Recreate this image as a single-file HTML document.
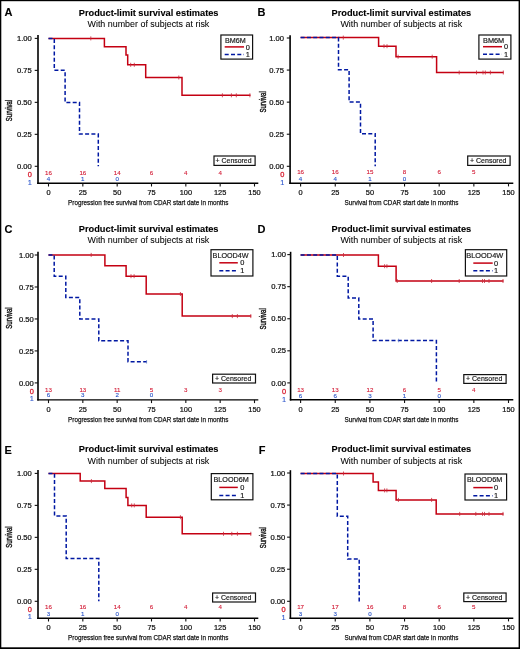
<!DOCTYPE html>
<html><head><meta charset="utf-8"><style>
html,body{margin:0;padding:0;background:#fff;}
svg{display:block;will-change:transform;}
text{font-family:"Liberation Sans",sans-serif;}
</style></head><body>
<svg width="520" height="649" viewBox="0 0 520 649">
<rect x="0" y="0" width="520" height="649" fill="#fff"/>
<text x="4.6" y="16" font-size="11" text-anchor="start" fill="#000" font-weight="bold" stroke="#000" stroke-width="0.1">A</text>
<text x="78.8" y="15.5" font-size="8.2" text-anchor="start" fill="#000" font-weight="bold" stroke="#000" stroke-width="0.1" textLength="139.7" lengthAdjust="spacingAndGlyphs">Product-limit survival estimates</text>
<text x="87.5" y="26.6" font-size="8.8" text-anchor="start" fill="#000" font-weight="normal" stroke="#000" stroke-width="0.05" textLength="121.8" lengthAdjust="spacingAndGlyphs">With number of subjects at risk</text>
<line x1="38" y1="35.1" x2="38" y2="184" stroke="#000" stroke-width="1.6"/>
<line x1="37.2" y1="183.3" x2="258.3" y2="183.3" stroke="#000" stroke-width="1.4"/>
<line x1="34.7" y1="166.3" x2="38" y2="166.3" stroke="#111" stroke-width="1.1"/>
<text x="31.8" y="168.95" font-size="7.4" text-anchor="end" fill="#111" font-weight="normal" stroke="#111" stroke-width="0.22" textLength="14.8" lengthAdjust="spacingAndGlyphs">0.00</text>
<line x1="34.7" y1="134.33" x2="38" y2="134.33" stroke="#111" stroke-width="1.1"/>
<text x="31.8" y="136.98" font-size="7.4" text-anchor="end" fill="#111" font-weight="normal" stroke="#111" stroke-width="0.22" textLength="14.8" lengthAdjust="spacingAndGlyphs">0.25</text>
<line x1="34.7" y1="102.35" x2="38" y2="102.35" stroke="#111" stroke-width="1.1"/>
<text x="31.8" y="105" font-size="7.4" text-anchor="end" fill="#111" font-weight="normal" stroke="#111" stroke-width="0.22" textLength="14.8" lengthAdjust="spacingAndGlyphs">0.50</text>
<line x1="34.7" y1="70.38" x2="38" y2="70.38" stroke="#111" stroke-width="1.1"/>
<text x="31.8" y="73.03" font-size="7.4" text-anchor="end" fill="#111" font-weight="normal" stroke="#111" stroke-width="0.22" textLength="14.8" lengthAdjust="spacingAndGlyphs">0.75</text>
<line x1="34.7" y1="38.4" x2="38" y2="38.4" stroke="#111" stroke-width="1.1"/>
<text x="31.8" y="41.05" font-size="7.4" text-anchor="end" fill="#111" font-weight="normal" stroke="#111" stroke-width="0.22" textLength="14.8" lengthAdjust="spacingAndGlyphs">1.00</text>
<line x1="48.5" y1="183.3" x2="48.5" y2="186.5" stroke="#111" stroke-width="1.1"/>
<text x="48.5" y="194.9" font-size="7.4" text-anchor="middle" fill="#111" font-weight="normal" stroke="#111" stroke-width="0.22">0</text>
<line x1="82.83" y1="183.3" x2="82.83" y2="186.5" stroke="#111" stroke-width="1.1"/>
<text x="82.83" y="194.9" font-size="7.4" text-anchor="middle" fill="#111" font-weight="normal" stroke="#111" stroke-width="0.22">25</text>
<line x1="117.17" y1="183.3" x2="117.17" y2="186.5" stroke="#111" stroke-width="1.1"/>
<text x="117.17" y="194.9" font-size="7.4" text-anchor="middle" fill="#111" font-weight="normal" stroke="#111" stroke-width="0.22">50</text>
<line x1="151.5" y1="183.3" x2="151.5" y2="186.5" stroke="#111" stroke-width="1.1"/>
<text x="151.5" y="194.9" font-size="7.4" text-anchor="middle" fill="#111" font-weight="normal" stroke="#111" stroke-width="0.22">75</text>
<line x1="185.83" y1="183.3" x2="185.83" y2="186.5" stroke="#111" stroke-width="1.1"/>
<text x="185.83" y="194.9" font-size="7.4" text-anchor="middle" fill="#111" font-weight="normal" stroke="#111" stroke-width="0.22">100</text>
<line x1="220.17" y1="183.3" x2="220.17" y2="186.5" stroke="#111" stroke-width="1.1"/>
<text x="220.17" y="194.9" font-size="7.4" text-anchor="middle" fill="#111" font-weight="normal" stroke="#111" stroke-width="0.22">125</text>
<line x1="254.5" y1="183.3" x2="254.5" y2="186.5" stroke="#111" stroke-width="1.1"/>
<text x="254.5" y="194.9" font-size="7.4" text-anchor="middle" fill="#111" font-weight="normal" stroke="#111" stroke-width="0.22">150</text>
<text x="68.1" y="205.1" font-size="8" text-anchor="start" fill="#111" font-weight="normal" stroke="#111" stroke-width="0.25" textLength="160.2" lengthAdjust="spacingAndGlyphs">Progression free survival from CDAR start date in months</text>
<text x="0" y="0" font-size="8.8" text-anchor="middle" fill="#111" stroke="#111" stroke-width="0.4" textLength="21.3" lengthAdjust="spacingAndGlyphs" transform="translate(12.3 110.5) rotate(-90)">Survival</text>
<text x="48.5" y="175" font-size="6.2" text-anchor="middle" fill="#D4203A" font-weight="normal" stroke="#D4203A" stroke-width="0.12">16</text>
<text x="82.83" y="175" font-size="6.2" text-anchor="middle" fill="#D4203A" font-weight="normal" stroke="#D4203A" stroke-width="0.12">16</text>
<text x="117.17" y="175" font-size="6.2" text-anchor="middle" fill="#D4203A" font-weight="normal" stroke="#D4203A" stroke-width="0.12">14</text>
<text x="151.5" y="175" font-size="6.2" text-anchor="middle" fill="#D4203A" font-weight="normal" stroke="#D4203A" stroke-width="0.12">6</text>
<text x="185.83" y="175" font-size="6.2" text-anchor="middle" fill="#D4203A" font-weight="normal" stroke="#D4203A" stroke-width="0.12">4</text>
<text x="220.17" y="175" font-size="6.2" text-anchor="middle" fill="#D4203A" font-weight="normal" stroke="#D4203A" stroke-width="0.12">4</text>
<text x="48.5" y="181" font-size="6.2" text-anchor="middle" fill="#2A55C8" font-weight="normal" stroke="#2A55C8" stroke-width="0.12">4</text>
<text x="82.83" y="181" font-size="6.2" text-anchor="middle" fill="#2A55C8" font-weight="normal" stroke="#2A55C8" stroke-width="0.12">1</text>
<text x="117.17" y="181" font-size="6.2" text-anchor="middle" fill="#2A55C8" font-weight="normal" stroke="#2A55C8" stroke-width="0.12">0</text>
<text x="31.9" y="177.2" font-size="7.4" text-anchor="end" fill="#D81E30" font-weight="normal" stroke="#D81E30" stroke-width="0.3">0</text>
<text x="31.9" y="184.6" font-size="7.4" text-anchor="end" fill="#2f58cc" font-weight="normal" stroke="#2f58cc" stroke-width="0.12">1</text>
<path d="M48.5 38.4 L104.4 38.4 L104.4 46.8 L126 46.8 L126 54.9 L127.7 54.9 L127.7 64.8 L145.7 64.8 L145.7 77.5 L182 77.5 L182 95.3 L250.5 95.3" fill="none" stroke="#C40012" stroke-width="1.5" stroke-linejoin="miter" stroke-linecap="butt"/>
<line x1="90.8" y1="36.4" x2="90.8" y2="40.4" stroke="#c8283a" stroke-width="0.8"/>
<line x1="130.7" y1="62.8" x2="130.7" y2="66.8" stroke="#c8283a" stroke-width="0.8"/>
<line x1="134.3" y1="62.8" x2="134.3" y2="66.8" stroke="#c8283a" stroke-width="0.8"/>
<line x1="178.8" y1="75.5" x2="178.8" y2="79.5" stroke="#c8283a" stroke-width="0.8"/>
<line x1="222.4" y1="93.3" x2="222.4" y2="97.3" stroke="#c8283a" stroke-width="0.8"/>
<line x1="231.4" y1="93.3" x2="231.4" y2="97.3" stroke="#c8283a" stroke-width="0.8"/>
<line x1="236.3" y1="93.3" x2="236.3" y2="97.3" stroke="#c8283a" stroke-width="0.8"/>
<line x1="249.9" y1="93.3" x2="249.9" y2="97.3" stroke="#c8283a" stroke-width="0.8"/>
<path d="M48.5 38.4 L54.3 38.4 L54.3 70.3 L65.1 70.3 L65.1 102.4 L79.5 102.4 L79.5 134.1 L98.3 134.1 L98.3 166.3" fill="none" stroke="#0018A2" stroke-width="1.5" stroke-dasharray="4 2.3" stroke-linejoin="miter" stroke-linecap="butt"/>
<rect x="220.9" y="35" width="31.7" height="24.1" fill="#fff" stroke="#111" stroke-width="1.2"/>
<text x="225" y="43" font-size="7.8" text-anchor="start" fill="#1a1a1a" font-weight="normal" stroke="#1a1a1a" stroke-width="0.2" textLength="20.7" lengthAdjust="spacingAndGlyphs">BM6M</text>
<line x1="224.7" y1="46.9" x2="244" y2="46.9" stroke="#C40012" stroke-width="1.5"/>
<line x1="224.7" y1="54.5" x2="244" y2="54.5" stroke="#0018A2" stroke-width="1.5" stroke-dasharray="4 2.3"/>
<text x="245.7" y="49.5" font-size="7.4" text-anchor="start" fill="#111" font-weight="normal" stroke="#111" stroke-width="0.15">0</text>
<text x="245.7" y="57.1" font-size="7.4" text-anchor="start" fill="#111" font-weight="normal" stroke="#111" stroke-width="0.15">1</text>
<rect x="214" y="156" width="41.1" height="9.4" fill="#fff" stroke="#111" stroke-width="1.2"/>
<text x="215.6" y="163.3" font-size="7.2" text-anchor="start" fill="#111" font-weight="normal" stroke="#111" stroke-width="0.15" textLength="35.9" lengthAdjust="spacingAndGlyphs">+ Censored</text>
<text x="257.6" y="16" font-size="11" text-anchor="start" fill="#000" font-weight="bold" stroke="#000" stroke-width="0.1">B</text>
<text x="331.5" y="15.5" font-size="8.2" text-anchor="start" fill="#000" font-weight="bold" stroke="#000" stroke-width="0.1" textLength="139.7" lengthAdjust="spacingAndGlyphs">Product-limit survival estimates</text>
<text x="340.4" y="26.6" font-size="8.8" text-anchor="start" fill="#000" font-weight="normal" stroke="#000" stroke-width="0.05" textLength="121.8" lengthAdjust="spacingAndGlyphs">With number of subjects at risk</text>
<line x1="290.1" y1="35.2" x2="290.1" y2="183.9" stroke="#000" stroke-width="1.6"/>
<line x1="289.3" y1="183.2" x2="513.3" y2="183.2" stroke="#000" stroke-width="1.4"/>
<line x1="286.8" y1="166.3" x2="290.1" y2="166.3" stroke="#111" stroke-width="1.1"/>
<text x="284" y="168.95" font-size="7.4" text-anchor="end" fill="#111" font-weight="normal" stroke="#111" stroke-width="0.22" textLength="14.8" lengthAdjust="spacingAndGlyphs">0.00</text>
<line x1="286.8" y1="134.23" x2="290.1" y2="134.23" stroke="#111" stroke-width="1.1"/>
<text x="284" y="136.88" font-size="7.4" text-anchor="end" fill="#111" font-weight="normal" stroke="#111" stroke-width="0.22" textLength="14.8" lengthAdjust="spacingAndGlyphs">0.25</text>
<line x1="286.8" y1="102.15" x2="290.1" y2="102.15" stroke="#111" stroke-width="1.1"/>
<text x="284" y="104.8" font-size="7.4" text-anchor="end" fill="#111" font-weight="normal" stroke="#111" stroke-width="0.22" textLength="14.8" lengthAdjust="spacingAndGlyphs">0.50</text>
<line x1="286.8" y1="70.08" x2="290.1" y2="70.08" stroke="#111" stroke-width="1.1"/>
<text x="284" y="72.73" font-size="7.4" text-anchor="end" fill="#111" font-weight="normal" stroke="#111" stroke-width="0.22" textLength="14.8" lengthAdjust="spacingAndGlyphs">0.75</text>
<line x1="286.8" y1="38" x2="290.1" y2="38" stroke="#111" stroke-width="1.1"/>
<text x="284" y="40.65" font-size="7.4" text-anchor="end" fill="#111" font-weight="normal" stroke="#111" stroke-width="0.22" textLength="14.8" lengthAdjust="spacingAndGlyphs">1.00</text>
<line x1="300.6" y1="183.2" x2="300.6" y2="186.4" stroke="#111" stroke-width="1.1"/>
<text x="300.6" y="194.9" font-size="7.4" text-anchor="middle" fill="#111" font-weight="normal" stroke="#111" stroke-width="0.22">0</text>
<line x1="335.25" y1="183.2" x2="335.25" y2="186.4" stroke="#111" stroke-width="1.1"/>
<text x="335.25" y="194.9" font-size="7.4" text-anchor="middle" fill="#111" font-weight="normal" stroke="#111" stroke-width="0.22">25</text>
<line x1="369.9" y1="183.2" x2="369.9" y2="186.4" stroke="#111" stroke-width="1.1"/>
<text x="369.9" y="194.9" font-size="7.4" text-anchor="middle" fill="#111" font-weight="normal" stroke="#111" stroke-width="0.22">50</text>
<line x1="404.55" y1="183.2" x2="404.55" y2="186.4" stroke="#111" stroke-width="1.1"/>
<text x="404.55" y="194.9" font-size="7.4" text-anchor="middle" fill="#111" font-weight="normal" stroke="#111" stroke-width="0.22">75</text>
<line x1="439.2" y1="183.2" x2="439.2" y2="186.4" stroke="#111" stroke-width="1.1"/>
<text x="439.2" y="194.9" font-size="7.4" text-anchor="middle" fill="#111" font-weight="normal" stroke="#111" stroke-width="0.22">100</text>
<line x1="473.85" y1="183.2" x2="473.85" y2="186.4" stroke="#111" stroke-width="1.1"/>
<text x="473.85" y="194.9" font-size="7.4" text-anchor="middle" fill="#111" font-weight="normal" stroke="#111" stroke-width="0.22">125</text>
<line x1="508.5" y1="183.2" x2="508.5" y2="186.4" stroke="#111" stroke-width="1.1"/>
<text x="508.5" y="194.9" font-size="7.4" text-anchor="middle" fill="#111" font-weight="normal" stroke="#111" stroke-width="0.22">150</text>
<text x="344.6" y="205.4" font-size="8" text-anchor="start" fill="#111" font-weight="normal" stroke="#111" stroke-width="0.25" textLength="113.9" lengthAdjust="spacingAndGlyphs">Survival from CDAR start date in months</text>
<text x="0" y="0" font-size="8.8" text-anchor="middle" fill="#111" stroke="#111" stroke-width="0.4" textLength="21.3" lengthAdjust="spacingAndGlyphs" transform="translate(265.9 101.9) rotate(-90)">Survival</text>
<text x="300.6" y="173.7" font-size="6.2" text-anchor="middle" fill="#D4203A" font-weight="normal" stroke="#D4203A" stroke-width="0.12">16</text>
<text x="335.25" y="173.7" font-size="6.2" text-anchor="middle" fill="#D4203A" font-weight="normal" stroke="#D4203A" stroke-width="0.12">16</text>
<text x="369.9" y="173.7" font-size="6.2" text-anchor="middle" fill="#D4203A" font-weight="normal" stroke="#D4203A" stroke-width="0.12">15</text>
<text x="404.55" y="173.7" font-size="6.2" text-anchor="middle" fill="#D4203A" font-weight="normal" stroke="#D4203A" stroke-width="0.12">8</text>
<text x="439.2" y="173.7" font-size="6.2" text-anchor="middle" fill="#D4203A" font-weight="normal" stroke="#D4203A" stroke-width="0.12">6</text>
<text x="473.85" y="173.7" font-size="6.2" text-anchor="middle" fill="#D4203A" font-weight="normal" stroke="#D4203A" stroke-width="0.12">5</text>
<text x="300.6" y="180.9" font-size="6.2" text-anchor="middle" fill="#2A55C8" font-weight="normal" stroke="#2A55C8" stroke-width="0.12">4</text>
<text x="335.25" y="180.9" font-size="6.2" text-anchor="middle" fill="#2A55C8" font-weight="normal" stroke="#2A55C8" stroke-width="0.12">4</text>
<text x="369.9" y="180.9" font-size="6.2" text-anchor="middle" fill="#2A55C8" font-weight="normal" stroke="#2A55C8" stroke-width="0.12">1</text>
<text x="404.55" y="180.9" font-size="6.2" text-anchor="middle" fill="#2A55C8" font-weight="normal" stroke="#2A55C8" stroke-width="0.12">0</text>
<text x="284.3" y="177.2" font-size="7.4" text-anchor="end" fill="#D81E30" font-weight="normal" stroke="#D81E30" stroke-width="0.3">0</text>
<text x="284.3" y="184.9" font-size="7.4" text-anchor="end" fill="#2f58cc" font-weight="normal" stroke="#2f58cc" stroke-width="0.12">1</text>
<path d="M300.6 37.6 L378.6 37.6 L378.6 46.2 L396 46.2 L396 56.7 L436.6 56.7 L436.6 72.5 L503.6 72.5" fill="none" stroke="#C40012" stroke-width="1.5" stroke-linejoin="miter" stroke-linecap="butt"/>
<line x1="343.3" y1="35.6" x2="343.3" y2="39.6" stroke="#c8283a" stroke-width="0.8"/>
<line x1="384" y1="44.2" x2="384" y2="48.2" stroke="#c8283a" stroke-width="0.8"/>
<line x1="387" y1="44.2" x2="387" y2="48.2" stroke="#c8283a" stroke-width="0.8"/>
<line x1="398.1" y1="54.7" x2="398.1" y2="58.7" stroke="#c8283a" stroke-width="0.8"/>
<line x1="432.2" y1="54.7" x2="432.2" y2="58.7" stroke="#c8283a" stroke-width="0.8"/>
<line x1="459.2" y1="70.5" x2="459.2" y2="74.5" stroke="#c8283a" stroke-width="0.8"/>
<line x1="476.5" y1="70.5" x2="476.5" y2="74.5" stroke="#c8283a" stroke-width="0.8"/>
<line x1="483" y1="70.5" x2="483" y2="74.5" stroke="#c8283a" stroke-width="0.8"/>
<line x1="485.3" y1="70.5" x2="485.3" y2="74.5" stroke="#c8283a" stroke-width="0.8"/>
<line x1="490.4" y1="70.5" x2="490.4" y2="74.5" stroke="#c8283a" stroke-width="0.8"/>
<line x1="503.3" y1="70.5" x2="503.3" y2="74.5" stroke="#c8283a" stroke-width="0.8"/>
<path d="M300.6 37.6 L338.5 37.6 L338.5 69.7 L349.1 69.7 L349.1 102 L360.5 102 L360.5 133.7 L375.2 133.7 L375.2 166.3" fill="none" stroke="#0018A2" stroke-width="1.5" stroke-dasharray="4 2.3" stroke-linejoin="miter" stroke-linecap="butt"/>
<rect x="478.9" y="35" width="32" height="24.1" fill="#fff" stroke="#111" stroke-width="1.2"/>
<text x="483" y="43" font-size="7.8" text-anchor="start" fill="#1a1a1a" font-weight="normal" stroke="#1a1a1a" stroke-width="0.2" textLength="21.2" lengthAdjust="spacingAndGlyphs">BM6M</text>
<line x1="483" y1="46.7" x2="502" y2="46.7" stroke="#C40012" stroke-width="1.5"/>
<line x1="483" y1="54.2" x2="502" y2="54.2" stroke="#0018A2" stroke-width="1.5" stroke-dasharray="4 2.3"/>
<text x="503.9" y="49.3" font-size="7.4" text-anchor="start" fill="#111" font-weight="normal" stroke="#111" stroke-width="0.15">0</text>
<text x="503.9" y="56.8" font-size="7.4" text-anchor="start" fill="#111" font-weight="normal" stroke="#111" stroke-width="0.15">1</text>
<rect x="467.7" y="156" width="42.4" height="9.4" fill="#fff" stroke="#111" stroke-width="1.2"/>
<text x="470" y="163.3" font-size="7.2" text-anchor="start" fill="#111" font-weight="normal" stroke="#111" stroke-width="0.15" textLength="36.5" lengthAdjust="spacingAndGlyphs">+ Censored</text>
<text x="4.6" y="232.6" font-size="11" text-anchor="start" fill="#000" font-weight="bold" stroke="#000" stroke-width="0.1">C</text>
<text x="78.8" y="232.1" font-size="8.2" text-anchor="start" fill="#000" font-weight="bold" stroke="#000" stroke-width="0.1" textLength="139.7" lengthAdjust="spacingAndGlyphs">Product-limit survival estimates</text>
<text x="87.5" y="243.2" font-size="8.8" text-anchor="start" fill="#000" font-weight="normal" stroke="#000" stroke-width="0.05" textLength="121.8" lengthAdjust="spacingAndGlyphs">With number of subjects at risk</text>
<line x1="38" y1="251.7" x2="38" y2="400.6" stroke="#000" stroke-width="1.6"/>
<line x1="37.2" y1="399.9" x2="258.3" y2="399.9" stroke="#000" stroke-width="1.4"/>
<line x1="34.7" y1="382.9" x2="38" y2="382.9" stroke="#111" stroke-width="1.1"/>
<text x="33.8" y="385.55" font-size="7.4" text-anchor="end" fill="#111" font-weight="normal" stroke="#111" stroke-width="0.22" textLength="14.8" lengthAdjust="spacingAndGlyphs">0.00</text>
<line x1="34.7" y1="350.92" x2="38" y2="350.92" stroke="#111" stroke-width="1.1"/>
<text x="33.8" y="353.57" font-size="7.4" text-anchor="end" fill="#111" font-weight="normal" stroke="#111" stroke-width="0.22" textLength="14.8" lengthAdjust="spacingAndGlyphs">0.25</text>
<line x1="34.7" y1="318.95" x2="38" y2="318.95" stroke="#111" stroke-width="1.1"/>
<text x="33.8" y="321.6" font-size="7.4" text-anchor="end" fill="#111" font-weight="normal" stroke="#111" stroke-width="0.22" textLength="14.8" lengthAdjust="spacingAndGlyphs">0.50</text>
<line x1="34.7" y1="286.98" x2="38" y2="286.98" stroke="#111" stroke-width="1.1"/>
<text x="33.8" y="289.62" font-size="7.4" text-anchor="end" fill="#111" font-weight="normal" stroke="#111" stroke-width="0.22" textLength="14.8" lengthAdjust="spacingAndGlyphs">0.75</text>
<line x1="34.7" y1="255" x2="38" y2="255" stroke="#111" stroke-width="1.1"/>
<text x="33.8" y="257.65" font-size="7.4" text-anchor="end" fill="#111" font-weight="normal" stroke="#111" stroke-width="0.22" textLength="14.8" lengthAdjust="spacingAndGlyphs">1.00</text>
<line x1="48.5" y1="399.9" x2="48.5" y2="403.1" stroke="#111" stroke-width="1.1"/>
<text x="48.5" y="411.5" font-size="7.4" text-anchor="middle" fill="#111" font-weight="normal" stroke="#111" stroke-width="0.22">0</text>
<line x1="82.83" y1="399.9" x2="82.83" y2="403.1" stroke="#111" stroke-width="1.1"/>
<text x="82.83" y="411.5" font-size="7.4" text-anchor="middle" fill="#111" font-weight="normal" stroke="#111" stroke-width="0.22">25</text>
<line x1="117.17" y1="399.9" x2="117.17" y2="403.1" stroke="#111" stroke-width="1.1"/>
<text x="117.17" y="411.5" font-size="7.4" text-anchor="middle" fill="#111" font-weight="normal" stroke="#111" stroke-width="0.22">50</text>
<line x1="151.5" y1="399.9" x2="151.5" y2="403.1" stroke="#111" stroke-width="1.1"/>
<text x="151.5" y="411.5" font-size="7.4" text-anchor="middle" fill="#111" font-weight="normal" stroke="#111" stroke-width="0.22">75</text>
<line x1="185.83" y1="399.9" x2="185.83" y2="403.1" stroke="#111" stroke-width="1.1"/>
<text x="185.83" y="411.5" font-size="7.4" text-anchor="middle" fill="#111" font-weight="normal" stroke="#111" stroke-width="0.22">100</text>
<line x1="220.17" y1="399.9" x2="220.17" y2="403.1" stroke="#111" stroke-width="1.1"/>
<text x="220.17" y="411.5" font-size="7.4" text-anchor="middle" fill="#111" font-weight="normal" stroke="#111" stroke-width="0.22">125</text>
<line x1="254.5" y1="399.9" x2="254.5" y2="403.1" stroke="#111" stroke-width="1.1"/>
<text x="254.5" y="411.5" font-size="7.4" text-anchor="middle" fill="#111" font-weight="normal" stroke="#111" stroke-width="0.22">150</text>
<text x="68.1" y="421.7" font-size="8" text-anchor="start" fill="#111" font-weight="normal" stroke="#111" stroke-width="0.25" textLength="160.2" lengthAdjust="spacingAndGlyphs">Progression free survival from CDAR start date in months</text>
<text x="0" y="0" font-size="8.8" text-anchor="middle" fill="#111" stroke="#111" stroke-width="0.4" textLength="21.3" lengthAdjust="spacingAndGlyphs" transform="translate(12.3 318) rotate(-90)">Survival</text>
<text x="48.5" y="391.5" font-size="6.2" text-anchor="middle" fill="#D4203A" font-weight="normal" stroke="#D4203A" stroke-width="0.12">13</text>
<text x="82.83" y="391.5" font-size="6.2" text-anchor="middle" fill="#D4203A" font-weight="normal" stroke="#D4203A" stroke-width="0.12">13</text>
<text x="117.17" y="391.5" font-size="6.2" text-anchor="middle" fill="#D4203A" font-weight="normal" stroke="#D4203A" stroke-width="0.12">11</text>
<text x="151.5" y="391.5" font-size="6.2" text-anchor="middle" fill="#D4203A" font-weight="normal" stroke="#D4203A" stroke-width="0.12">5</text>
<text x="185.83" y="391.5" font-size="6.2" text-anchor="middle" fill="#D4203A" font-weight="normal" stroke="#D4203A" stroke-width="0.12">3</text>
<text x="220.17" y="391.5" font-size="6.2" text-anchor="middle" fill="#D4203A" font-weight="normal" stroke="#D4203A" stroke-width="0.12">3</text>
<text x="48.5" y="397.4" font-size="6.2" text-anchor="middle" fill="#2A55C8" font-weight="normal" stroke="#2A55C8" stroke-width="0.12">6</text>
<text x="82.83" y="397.4" font-size="6.2" text-anchor="middle" fill="#2A55C8" font-weight="normal" stroke="#2A55C8" stroke-width="0.12">3</text>
<text x="117.17" y="397.4" font-size="6.2" text-anchor="middle" fill="#2A55C8" font-weight="normal" stroke="#2A55C8" stroke-width="0.12">2</text>
<text x="151.5" y="397.4" font-size="6.2" text-anchor="middle" fill="#2A55C8" font-weight="normal" stroke="#2A55C8" stroke-width="0.12">0</text>
<text x="33.9" y="393.7" font-size="7.4" text-anchor="end" fill="#D81E30" font-weight="normal" stroke="#D81E30" stroke-width="0.3">0</text>
<text x="33.9" y="401" font-size="7.4" text-anchor="end" fill="#2f58cc" font-weight="normal" stroke="#2f58cc" stroke-width="0.12">1</text>
<path d="M48.5 254.9 L104.9 254.9 L104.9 265.7 L126.1 265.7 L126.1 276.2 L146.2 276.2 L146.2 294 L182.2 294 L182.2 316.1 L251.2 316.1" fill="none" stroke="#C40012" stroke-width="1.5" stroke-linejoin="miter" stroke-linecap="butt"/>
<line x1="91.2" y1="252.9" x2="91.2" y2="256.9" stroke="#c8283a" stroke-width="0.8"/>
<line x1="131" y1="274.2" x2="131" y2="278.2" stroke="#c8283a" stroke-width="0.8"/>
<line x1="134.1" y1="274.2" x2="134.1" y2="278.2" stroke="#c8283a" stroke-width="0.8"/>
<line x1="180.4" y1="292" x2="180.4" y2="296" stroke="#c8283a" stroke-width="0.8"/>
<line x1="232.3" y1="314.1" x2="232.3" y2="318.1" stroke="#c8283a" stroke-width="0.8"/>
<line x1="237.4" y1="314.1" x2="237.4" y2="318.1" stroke="#c8283a" stroke-width="0.8"/>
<line x1="250.8" y1="314.1" x2="250.8" y2="318.1" stroke="#c8283a" stroke-width="0.8"/>
<path d="M48.5 254.9 L54.2 254.9 L54.2 276.2 L65.8 276.2 L65.8 297.5 L79.8 297.5 L79.8 319 L98.8 319 L98.8 340.8 L128 340.8 L128 361.8 L146.8 361.8" fill="none" stroke="#0018A2" stroke-width="1.5" stroke-dasharray="4 2.3" stroke-linejoin="miter" stroke-linecap="butt"/>
<line x1="146.6" y1="360" x2="146.6" y2="363.6" stroke="#5a78c8" stroke-width="0.7"/>
<rect x="211" y="249.7" width="41.9" height="26.3" fill="#fff" stroke="#111" stroke-width="1.2"/>
<text x="212.6" y="257.9" font-size="7.8" text-anchor="start" fill="#1a1a1a" font-weight="normal" stroke="#1a1a1a" stroke-width="0.2" textLength="36" lengthAdjust="spacingAndGlyphs">BLOOD4W</text>
<line x1="219.3" y1="262.8" x2="237.8" y2="262.8" stroke="#C40012" stroke-width="1.5"/>
<line x1="219.3" y1="270.7" x2="237.8" y2="270.7" stroke="#0018A2" stroke-width="1.5" stroke-dasharray="4 2.3"/>
<text x="240.2" y="265.4" font-size="7.4" text-anchor="start" fill="#111" font-weight="normal" stroke="#111" stroke-width="0.15">0</text>
<text x="240.2" y="273.3" font-size="7.4" text-anchor="start" fill="#111" font-weight="normal" stroke="#111" stroke-width="0.15">1</text>
<rect x="212.6" y="374.2" width="42.9" height="8.8" fill="#fff" stroke="#111" stroke-width="1.2"/>
<text x="215" y="380.9" font-size="7.2" text-anchor="start" fill="#111" font-weight="normal" stroke="#111" stroke-width="0.15" textLength="36.3" lengthAdjust="spacingAndGlyphs">+ Censored</text>
<text x="257.6" y="232.6" font-size="11" text-anchor="start" fill="#000" font-weight="bold" stroke="#000" stroke-width="0.1">D</text>
<text x="331.5" y="232.1" font-size="8.2" text-anchor="start" fill="#000" font-weight="bold" stroke="#000" stroke-width="0.1" textLength="139.7" lengthAdjust="spacingAndGlyphs">Product-limit survival estimates</text>
<text x="340.4" y="243.2" font-size="8.8" text-anchor="start" fill="#000" font-weight="normal" stroke="#000" stroke-width="0.05" textLength="121.8" lengthAdjust="spacingAndGlyphs">With number of subjects at risk</text>
<line x1="290.6" y1="251.8" x2="290.6" y2="400.5" stroke="#000" stroke-width="1.6"/>
<line x1="289.8" y1="399.8" x2="513.3" y2="399.8" stroke="#000" stroke-width="1.4"/>
<line x1="287.3" y1="382.9" x2="290.6" y2="382.9" stroke="#111" stroke-width="1.1"/>
<text x="286" y="385.55" font-size="7.4" text-anchor="end" fill="#111" font-weight="normal" stroke="#111" stroke-width="0.22" textLength="14.8" lengthAdjust="spacingAndGlyphs">0.00</text>
<line x1="287.3" y1="350.82" x2="290.6" y2="350.82" stroke="#111" stroke-width="1.1"/>
<text x="286" y="353.47" font-size="7.4" text-anchor="end" fill="#111" font-weight="normal" stroke="#111" stroke-width="0.22" textLength="14.8" lengthAdjust="spacingAndGlyphs">0.25</text>
<line x1="287.3" y1="318.75" x2="290.6" y2="318.75" stroke="#111" stroke-width="1.1"/>
<text x="286" y="321.4" font-size="7.4" text-anchor="end" fill="#111" font-weight="normal" stroke="#111" stroke-width="0.22" textLength="14.8" lengthAdjust="spacingAndGlyphs">0.50</text>
<line x1="287.3" y1="286.67" x2="290.6" y2="286.67" stroke="#111" stroke-width="1.1"/>
<text x="286" y="289.32" font-size="7.4" text-anchor="end" fill="#111" font-weight="normal" stroke="#111" stroke-width="0.22" textLength="14.8" lengthAdjust="spacingAndGlyphs">0.75</text>
<line x1="287.3" y1="254.6" x2="290.6" y2="254.6" stroke="#111" stroke-width="1.1"/>
<text x="286" y="257.25" font-size="7.4" text-anchor="end" fill="#111" font-weight="normal" stroke="#111" stroke-width="0.22" textLength="14.8" lengthAdjust="spacingAndGlyphs">1.00</text>
<line x1="300.6" y1="399.8" x2="300.6" y2="403" stroke="#111" stroke-width="1.1"/>
<text x="300.6" y="411.5" font-size="7.4" text-anchor="middle" fill="#111" font-weight="normal" stroke="#111" stroke-width="0.22">0</text>
<line x1="335.25" y1="399.8" x2="335.25" y2="403" stroke="#111" stroke-width="1.1"/>
<text x="335.25" y="411.5" font-size="7.4" text-anchor="middle" fill="#111" font-weight="normal" stroke="#111" stroke-width="0.22">25</text>
<line x1="369.9" y1="399.8" x2="369.9" y2="403" stroke="#111" stroke-width="1.1"/>
<text x="369.9" y="411.5" font-size="7.4" text-anchor="middle" fill="#111" font-weight="normal" stroke="#111" stroke-width="0.22">50</text>
<line x1="404.55" y1="399.8" x2="404.55" y2="403" stroke="#111" stroke-width="1.1"/>
<text x="404.55" y="411.5" font-size="7.4" text-anchor="middle" fill="#111" font-weight="normal" stroke="#111" stroke-width="0.22">75</text>
<line x1="439.2" y1="399.8" x2="439.2" y2="403" stroke="#111" stroke-width="1.1"/>
<text x="439.2" y="411.5" font-size="7.4" text-anchor="middle" fill="#111" font-weight="normal" stroke="#111" stroke-width="0.22">100</text>
<line x1="473.85" y1="399.8" x2="473.85" y2="403" stroke="#111" stroke-width="1.1"/>
<text x="473.85" y="411.5" font-size="7.4" text-anchor="middle" fill="#111" font-weight="normal" stroke="#111" stroke-width="0.22">125</text>
<line x1="508.5" y1="399.8" x2="508.5" y2="403" stroke="#111" stroke-width="1.1"/>
<text x="508.5" y="411.5" font-size="7.4" text-anchor="middle" fill="#111" font-weight="normal" stroke="#111" stroke-width="0.22">150</text>
<text x="344.6" y="422" font-size="8" text-anchor="start" fill="#111" font-weight="normal" stroke="#111" stroke-width="0.25" textLength="113.9" lengthAdjust="spacingAndGlyphs">Survival from CDAR start date in months</text>
<text x="0" y="0" font-size="8.8" text-anchor="middle" fill="#111" stroke="#111" stroke-width="0.4" textLength="21.3" lengthAdjust="spacingAndGlyphs" transform="translate(265.9 318.9) rotate(-90)">Survival</text>
<text x="300.6" y="391.55" font-size="6.2" text-anchor="middle" fill="#D4203A" font-weight="normal" stroke="#D4203A" stroke-width="0.12">13</text>
<text x="335.25" y="391.55" font-size="6.2" text-anchor="middle" fill="#D4203A" font-weight="normal" stroke="#D4203A" stroke-width="0.12">13</text>
<text x="369.9" y="391.55" font-size="6.2" text-anchor="middle" fill="#D4203A" font-weight="normal" stroke="#D4203A" stroke-width="0.12">12</text>
<text x="404.55" y="391.55" font-size="6.2" text-anchor="middle" fill="#D4203A" font-weight="normal" stroke="#D4203A" stroke-width="0.12">6</text>
<text x="439.2" y="391.55" font-size="6.2" text-anchor="middle" fill="#D4203A" font-weight="normal" stroke="#D4203A" stroke-width="0.12">5</text>
<text x="473.85" y="391.55" font-size="6.2" text-anchor="middle" fill="#D4203A" font-weight="normal" stroke="#D4203A" stroke-width="0.12">4</text>
<text x="300.6" y="397.9" font-size="6.2" text-anchor="middle" fill="#2A55C8" font-weight="normal" stroke="#2A55C8" stroke-width="0.12">6</text>
<text x="335.25" y="397.9" font-size="6.2" text-anchor="middle" fill="#2A55C8" font-weight="normal" stroke="#2A55C8" stroke-width="0.12">6</text>
<text x="369.9" y="397.9" font-size="6.2" text-anchor="middle" fill="#2A55C8" font-weight="normal" stroke="#2A55C8" stroke-width="0.12">3</text>
<text x="404.55" y="397.9" font-size="6.2" text-anchor="middle" fill="#2A55C8" font-weight="normal" stroke="#2A55C8" stroke-width="0.12">1</text>
<text x="439.2" y="397.9" font-size="6.2" text-anchor="middle" fill="#2A55C8" font-weight="normal" stroke="#2A55C8" stroke-width="0.12">0</text>
<text x="286.1" y="393.9" font-size="7.4" text-anchor="end" fill="#D81E30" font-weight="normal" stroke="#D81E30" stroke-width="0.3">0</text>
<text x="286.1" y="401.6" font-size="7.4" text-anchor="end" fill="#2f58cc" font-weight="normal" stroke="#2f58cc" stroke-width="0.12">1</text>
<path d="M300.6 255 L378.4 255 L378.4 266.2 L396.1 266.2 L396.1 281 L503.5 281" fill="none" stroke="#C40012" stroke-width="1.5" stroke-linejoin="miter" stroke-linecap="butt"/>
<line x1="343.5" y1="253" x2="343.5" y2="257" stroke="#c8283a" stroke-width="0.8"/>
<line x1="384.6" y1="264.2" x2="384.6" y2="268.2" stroke="#c8283a" stroke-width="0.8"/>
<line x1="386.9" y1="264.2" x2="386.9" y2="268.2" stroke="#c8283a" stroke-width="0.8"/>
<line x1="397.2" y1="279" x2="397.2" y2="283" stroke="#c8283a" stroke-width="0.8"/>
<line x1="431.6" y1="279" x2="431.6" y2="283" stroke="#c8283a" stroke-width="0.8"/>
<line x1="459.2" y1="279" x2="459.2" y2="283" stroke="#c8283a" stroke-width="0.8"/>
<line x1="482.5" y1="279" x2="482.5" y2="283" stroke="#c8283a" stroke-width="0.8"/>
<line x1="484.5" y1="279" x2="484.5" y2="283" stroke="#c8283a" stroke-width="0.8"/>
<line x1="489" y1="279" x2="489" y2="283" stroke="#c8283a" stroke-width="0.8"/>
<line x1="503" y1="279" x2="503" y2="283" stroke="#c8283a" stroke-width="0.8"/>
<path d="M300.6 255 L337.3 255 L337.3 276.2 L348.2 276.2 L348.2 298.1 L358.8 298.1 L358.8 318.9 L373.1 318.9 L373.1 340.5 L436.4 340.5 L436.4 383.1" fill="none" stroke="#0018A2" stroke-width="1.5" stroke-dasharray="4 2.3" stroke-linejoin="miter" stroke-linecap="butt"/>
<line x1="398.6" y1="338.7" x2="398.6" y2="342.3" stroke="#5a78c8" stroke-width="0.7"/>
<rect x="465.4" y="249.7" width="41.3" height="26.3" fill="#fff" stroke="#111" stroke-width="1.2"/>
<text x="466.3" y="257.9" font-size="7.8" text-anchor="start" fill="#1a1a1a" font-weight="normal" stroke="#1a1a1a" stroke-width="0.2" textLength="37" lengthAdjust="spacingAndGlyphs">BLOOD4W</text>
<line x1="473.3" y1="263.1" x2="492.7" y2="263.1" stroke="#C40012" stroke-width="1.5"/>
<line x1="473.3" y1="270.7" x2="492.7" y2="270.7" stroke="#0018A2" stroke-width="1.5" stroke-dasharray="4 2.3"/>
<text x="494" y="265.7" font-size="7.4" text-anchor="start" fill="#111" font-weight="normal" stroke="#111" stroke-width="0.15">0</text>
<text x="494" y="273.3" font-size="7.4" text-anchor="start" fill="#111" font-weight="normal" stroke="#111" stroke-width="0.15">1</text>
<rect x="463.8" y="374.6" width="42.3" height="8.8" fill="#fff" stroke="#111" stroke-width="1.2"/>
<text x="466" y="381.2" font-size="7.2" text-anchor="start" fill="#111" font-weight="normal" stroke="#111" stroke-width="0.15" textLength="36.3" lengthAdjust="spacingAndGlyphs">+ Censored</text>
<text x="4.6" y="453.9" font-size="11" text-anchor="start" fill="#000" font-weight="bold" stroke="#000" stroke-width="0.1">E</text>
<text x="78.8" y="452.4" font-size="8.2" text-anchor="start" fill="#000" font-weight="bold" stroke="#000" stroke-width="0.1" textLength="139.7" lengthAdjust="spacingAndGlyphs">Product-limit survival estimates</text>
<text x="87.5" y="463.5" font-size="8.8" text-anchor="start" fill="#000" font-weight="normal" stroke="#000" stroke-width="0.05" textLength="121.8" lengthAdjust="spacingAndGlyphs">With number of subjects at risk</text>
<line x1="38" y1="470.1" x2="38" y2="619" stroke="#000" stroke-width="1.6"/>
<line x1="37.2" y1="618.3" x2="258.3" y2="618.3" stroke="#000" stroke-width="1.4"/>
<line x1="34.7" y1="601.3" x2="38" y2="601.3" stroke="#111" stroke-width="1.1"/>
<text x="31.8" y="603.95" font-size="7.4" text-anchor="end" fill="#111" font-weight="normal" stroke="#111" stroke-width="0.22" textLength="14.8" lengthAdjust="spacingAndGlyphs">0.00</text>
<line x1="34.7" y1="569.32" x2="38" y2="569.32" stroke="#111" stroke-width="1.1"/>
<text x="31.8" y="571.97" font-size="7.4" text-anchor="end" fill="#111" font-weight="normal" stroke="#111" stroke-width="0.22" textLength="14.8" lengthAdjust="spacingAndGlyphs">0.25</text>
<line x1="34.7" y1="537.35" x2="38" y2="537.35" stroke="#111" stroke-width="1.1"/>
<text x="31.8" y="540" font-size="7.4" text-anchor="end" fill="#111" font-weight="normal" stroke="#111" stroke-width="0.22" textLength="14.8" lengthAdjust="spacingAndGlyphs">0.50</text>
<line x1="34.7" y1="505.38" x2="38" y2="505.38" stroke="#111" stroke-width="1.1"/>
<text x="31.8" y="508.02" font-size="7.4" text-anchor="end" fill="#111" font-weight="normal" stroke="#111" stroke-width="0.22" textLength="14.8" lengthAdjust="spacingAndGlyphs">0.75</text>
<line x1="34.7" y1="473.4" x2="38" y2="473.4" stroke="#111" stroke-width="1.1"/>
<text x="31.8" y="476.05" font-size="7.4" text-anchor="end" fill="#111" font-weight="normal" stroke="#111" stroke-width="0.22" textLength="14.8" lengthAdjust="spacingAndGlyphs">1.00</text>
<line x1="48.5" y1="618.3" x2="48.5" y2="621.5" stroke="#111" stroke-width="1.1"/>
<text x="48.5" y="629.9" font-size="7.4" text-anchor="middle" fill="#111" font-weight="normal" stroke="#111" stroke-width="0.22">0</text>
<line x1="82.83" y1="618.3" x2="82.83" y2="621.5" stroke="#111" stroke-width="1.1"/>
<text x="82.83" y="629.9" font-size="7.4" text-anchor="middle" fill="#111" font-weight="normal" stroke="#111" stroke-width="0.22">25</text>
<line x1="117.17" y1="618.3" x2="117.17" y2="621.5" stroke="#111" stroke-width="1.1"/>
<text x="117.17" y="629.9" font-size="7.4" text-anchor="middle" fill="#111" font-weight="normal" stroke="#111" stroke-width="0.22">50</text>
<line x1="151.5" y1="618.3" x2="151.5" y2="621.5" stroke="#111" stroke-width="1.1"/>
<text x="151.5" y="629.9" font-size="7.4" text-anchor="middle" fill="#111" font-weight="normal" stroke="#111" stroke-width="0.22">75</text>
<line x1="185.83" y1="618.3" x2="185.83" y2="621.5" stroke="#111" stroke-width="1.1"/>
<text x="185.83" y="629.9" font-size="7.4" text-anchor="middle" fill="#111" font-weight="normal" stroke="#111" stroke-width="0.22">100</text>
<line x1="220.17" y1="618.3" x2="220.17" y2="621.5" stroke="#111" stroke-width="1.1"/>
<text x="220.17" y="629.9" font-size="7.4" text-anchor="middle" fill="#111" font-weight="normal" stroke="#111" stroke-width="0.22">125</text>
<line x1="254.5" y1="618.3" x2="254.5" y2="621.5" stroke="#111" stroke-width="1.1"/>
<text x="254.5" y="629.9" font-size="7.4" text-anchor="middle" fill="#111" font-weight="normal" stroke="#111" stroke-width="0.22">150</text>
<text x="68.1" y="640.1" font-size="8" text-anchor="start" fill="#111" font-weight="normal" stroke="#111" stroke-width="0.25" textLength="160.2" lengthAdjust="spacingAndGlyphs">Progression free survival from CDAR start date in months</text>
<text x="0" y="0" font-size="8.8" text-anchor="middle" fill="#111" stroke="#111" stroke-width="0.4" textLength="21.3" lengthAdjust="spacingAndGlyphs" transform="translate(12.3 537.1) rotate(-90)">Survival</text>
<text x="48.5" y="608.8" font-size="6.2" text-anchor="middle" fill="#D4203A" font-weight="normal" stroke="#D4203A" stroke-width="0.12">16</text>
<text x="82.83" y="608.8" font-size="6.2" text-anchor="middle" fill="#D4203A" font-weight="normal" stroke="#D4203A" stroke-width="0.12">16</text>
<text x="117.17" y="608.8" font-size="6.2" text-anchor="middle" fill="#D4203A" font-weight="normal" stroke="#D4203A" stroke-width="0.12">14</text>
<text x="151.5" y="608.8" font-size="6.2" text-anchor="middle" fill="#D4203A" font-weight="normal" stroke="#D4203A" stroke-width="0.12">6</text>
<text x="185.83" y="608.8" font-size="6.2" text-anchor="middle" fill="#D4203A" font-weight="normal" stroke="#D4203A" stroke-width="0.12">4</text>
<text x="220.17" y="608.8" font-size="6.2" text-anchor="middle" fill="#D4203A" font-weight="normal" stroke="#D4203A" stroke-width="0.12">4</text>
<text x="48.5" y="615.8" font-size="6.2" text-anchor="middle" fill="#2A55C8" font-weight="normal" stroke="#2A55C8" stroke-width="0.12">3</text>
<text x="82.83" y="615.8" font-size="6.2" text-anchor="middle" fill="#2A55C8" font-weight="normal" stroke="#2A55C8" stroke-width="0.12">1</text>
<text x="117.17" y="615.8" font-size="6.2" text-anchor="middle" fill="#2A55C8" font-weight="normal" stroke="#2A55C8" stroke-width="0.12">0</text>
<text x="31.9" y="611.95" font-size="7.4" text-anchor="end" fill="#D81E30" font-weight="normal" stroke="#D81E30" stroke-width="0.3">0</text>
<text x="31.9" y="619.45" font-size="7.4" text-anchor="end" fill="#2f58cc" font-weight="normal" stroke="#2f58cc" stroke-width="0.12">1</text>
<path d="M48.5 473.5 L80.2 473.5 L80.2 481.1 L104.8 481.1 L104.8 488.5 L126.1 488.5 L126.1 497.4 L127.9 497.4 L127.9 505.4 L146.2 505.4 L146.2 517.2 L182.2 517.2 L182.2 533.8 L251.2 533.8" fill="none" stroke="#C40012" stroke-width="1.5" stroke-linejoin="miter" stroke-linecap="butt"/>
<line x1="91.4" y1="479.1" x2="91.4" y2="483.1" stroke="#c8283a" stroke-width="0.8"/>
<line x1="131.7" y1="503.4" x2="131.7" y2="507.4" stroke="#c8283a" stroke-width="0.8"/>
<line x1="134.3" y1="503.4" x2="134.3" y2="507.4" stroke="#c8283a" stroke-width="0.8"/>
<line x1="180.4" y1="515.2" x2="180.4" y2="519.2" stroke="#c8283a" stroke-width="0.8"/>
<line x1="223.5" y1="531.8" x2="223.5" y2="535.8" stroke="#c8283a" stroke-width="0.8"/>
<line x1="231.8" y1="531.8" x2="231.8" y2="535.8" stroke="#c8283a" stroke-width="0.8"/>
<line x1="237.4" y1="531.8" x2="237.4" y2="535.8" stroke="#c8283a" stroke-width="0.8"/>
<line x1="250.8" y1="531.8" x2="250.8" y2="535.8" stroke="#c8283a" stroke-width="0.8"/>
<path d="M48.5 473.5 L54.5 473.5 L54.5 516 L66.2 516 L66.2 558.6 L98.8 558.6 L98.8 601.3" fill="none" stroke="#0018A2" stroke-width="1.5" stroke-dasharray="4 2.3" stroke-linejoin="miter" stroke-linecap="butt"/>
<rect x="211.3" y="473.6" width="41.6" height="26.2" fill="#fff" stroke="#111" stroke-width="1.2"/>
<text x="213.5" y="481.6" font-size="7.8" text-anchor="start" fill="#1a1a1a" font-weight="normal" stroke="#1a1a1a" stroke-width="0.2" textLength="35.4" lengthAdjust="spacingAndGlyphs">BLOOD6M</text>
<line x1="219.3" y1="487.4" x2="237.8" y2="487.4" stroke="#C40012" stroke-width="1.5"/>
<line x1="219.3" y1="495.6" x2="237.8" y2="495.6" stroke="#0018A2" stroke-width="1.5" stroke-dasharray="4 2.3"/>
<text x="240.2" y="490" font-size="7.4" text-anchor="start" fill="#111" font-weight="normal" stroke="#111" stroke-width="0.15">0</text>
<text x="240.2" y="498.2" font-size="7.4" text-anchor="start" fill="#111" font-weight="normal" stroke="#111" stroke-width="0.15">1</text>
<rect x="212.6" y="593" width="42.9" height="9" fill="#fff" stroke="#111" stroke-width="1.2"/>
<text x="215" y="599.6" font-size="7.2" text-anchor="start" fill="#111" font-weight="normal" stroke="#111" stroke-width="0.15" textLength="36.3" lengthAdjust="spacingAndGlyphs">+ Censored</text>
<text x="258.8" y="453.9" font-size="11" text-anchor="start" fill="#000" font-weight="bold" stroke="#000" stroke-width="0.1">F</text>
<text x="331.5" y="452.4" font-size="8.2" text-anchor="start" fill="#000" font-weight="bold" stroke="#000" stroke-width="0.1" textLength="139.7" lengthAdjust="spacingAndGlyphs">Product-limit survival estimates</text>
<text x="340.4" y="463.5" font-size="8.8" text-anchor="start" fill="#000" font-weight="normal" stroke="#000" stroke-width="0.05" textLength="121.8" lengthAdjust="spacingAndGlyphs">With number of subjects at risk</text>
<line x1="290.4" y1="470.2" x2="290.4" y2="618.9" stroke="#000" stroke-width="1.6"/>
<line x1="289.6" y1="618.2" x2="513.3" y2="618.2" stroke="#000" stroke-width="1.4"/>
<line x1="287.1" y1="601.3" x2="290.4" y2="601.3" stroke="#111" stroke-width="1.1"/>
<text x="285.3" y="603.95" font-size="7.4" text-anchor="end" fill="#111" font-weight="normal" stroke="#111" stroke-width="0.22" textLength="14.8" lengthAdjust="spacingAndGlyphs">0.00</text>
<line x1="287.1" y1="569.22" x2="290.4" y2="569.22" stroke="#111" stroke-width="1.1"/>
<text x="285.3" y="571.87" font-size="7.4" text-anchor="end" fill="#111" font-weight="normal" stroke="#111" stroke-width="0.22" textLength="14.8" lengthAdjust="spacingAndGlyphs">0.25</text>
<line x1="287.1" y1="537.15" x2="290.4" y2="537.15" stroke="#111" stroke-width="1.1"/>
<text x="285.3" y="539.8" font-size="7.4" text-anchor="end" fill="#111" font-weight="normal" stroke="#111" stroke-width="0.22" textLength="14.8" lengthAdjust="spacingAndGlyphs">0.50</text>
<line x1="287.1" y1="505.07" x2="290.4" y2="505.07" stroke="#111" stroke-width="1.1"/>
<text x="285.3" y="507.72" font-size="7.4" text-anchor="end" fill="#111" font-weight="normal" stroke="#111" stroke-width="0.22" textLength="14.8" lengthAdjust="spacingAndGlyphs">0.75</text>
<line x1="287.1" y1="473" x2="290.4" y2="473" stroke="#111" stroke-width="1.1"/>
<text x="285.3" y="475.65" font-size="7.4" text-anchor="end" fill="#111" font-weight="normal" stroke="#111" stroke-width="0.22" textLength="14.8" lengthAdjust="spacingAndGlyphs">1.00</text>
<line x1="300.6" y1="618.2" x2="300.6" y2="621.4" stroke="#111" stroke-width="1.1"/>
<text x="300.6" y="629.9" font-size="7.4" text-anchor="middle" fill="#111" font-weight="normal" stroke="#111" stroke-width="0.22">0</text>
<line x1="335.25" y1="618.2" x2="335.25" y2="621.4" stroke="#111" stroke-width="1.1"/>
<text x="335.25" y="629.9" font-size="7.4" text-anchor="middle" fill="#111" font-weight="normal" stroke="#111" stroke-width="0.22">25</text>
<line x1="369.9" y1="618.2" x2="369.9" y2="621.4" stroke="#111" stroke-width="1.1"/>
<text x="369.9" y="629.9" font-size="7.4" text-anchor="middle" fill="#111" font-weight="normal" stroke="#111" stroke-width="0.22">50</text>
<line x1="404.55" y1="618.2" x2="404.55" y2="621.4" stroke="#111" stroke-width="1.1"/>
<text x="404.55" y="629.9" font-size="7.4" text-anchor="middle" fill="#111" font-weight="normal" stroke="#111" stroke-width="0.22">75</text>
<line x1="439.2" y1="618.2" x2="439.2" y2="621.4" stroke="#111" stroke-width="1.1"/>
<text x="439.2" y="629.9" font-size="7.4" text-anchor="middle" fill="#111" font-weight="normal" stroke="#111" stroke-width="0.22">100</text>
<line x1="473.85" y1="618.2" x2="473.85" y2="621.4" stroke="#111" stroke-width="1.1"/>
<text x="473.85" y="629.9" font-size="7.4" text-anchor="middle" fill="#111" font-weight="normal" stroke="#111" stroke-width="0.22">125</text>
<line x1="508.5" y1="618.2" x2="508.5" y2="621.4" stroke="#111" stroke-width="1.1"/>
<text x="508.5" y="629.9" font-size="7.4" text-anchor="middle" fill="#111" font-weight="normal" stroke="#111" stroke-width="0.22">150</text>
<text x="344.6" y="640.4" font-size="8" text-anchor="start" fill="#111" font-weight="normal" stroke="#111" stroke-width="0.25" textLength="113.9" lengthAdjust="spacingAndGlyphs">Survival from CDAR start date in months</text>
<text x="0" y="0" font-size="8.8" text-anchor="middle" fill="#111" stroke="#111" stroke-width="0.4" textLength="21.3" lengthAdjust="spacingAndGlyphs" transform="translate(265.9 537.7) rotate(-90)">Survival</text>
<text x="300.6" y="609" font-size="6.2" text-anchor="middle" fill="#D4203A" font-weight="normal" stroke="#D4203A" stroke-width="0.12">17</text>
<text x="335.25" y="609" font-size="6.2" text-anchor="middle" fill="#D4203A" font-weight="normal" stroke="#D4203A" stroke-width="0.12">17</text>
<text x="369.9" y="609" font-size="6.2" text-anchor="middle" fill="#D4203A" font-weight="normal" stroke="#D4203A" stroke-width="0.12">16</text>
<text x="404.55" y="609" font-size="6.2" text-anchor="middle" fill="#D4203A" font-weight="normal" stroke="#D4203A" stroke-width="0.12">8</text>
<text x="439.2" y="609" font-size="6.2" text-anchor="middle" fill="#D4203A" font-weight="normal" stroke="#D4203A" stroke-width="0.12">6</text>
<text x="473.85" y="609" font-size="6.2" text-anchor="middle" fill="#D4203A" font-weight="normal" stroke="#D4203A" stroke-width="0.12">5</text>
<text x="300.6" y="615.9" font-size="6.2" text-anchor="middle" fill="#2A55C8" font-weight="normal" stroke="#2A55C8" stroke-width="0.12">3</text>
<text x="335.25" y="615.9" font-size="6.2" text-anchor="middle" fill="#2A55C8" font-weight="normal" stroke="#2A55C8" stroke-width="0.12">3</text>
<text x="369.9" y="615.9" font-size="6.2" text-anchor="middle" fill="#2A55C8" font-weight="normal" stroke="#2A55C8" stroke-width="0.12">0</text>
<text x="285.5" y="612.2" font-size="7.4" text-anchor="end" fill="#D81E30" font-weight="normal" stroke="#D81E30" stroke-width="0.3">0</text>
<text x="285.5" y="619.6" font-size="7.4" text-anchor="end" fill="#2f58cc" font-weight="normal" stroke="#2f58cc" stroke-width="0.12">1</text>
<path d="M300.6 473.5 L373.1 473.5 L373.1 482.1 L378.4 482.1 L378.4 490.4 L396.1 490.4 L396.1 499.9 L436.2 499.9 L436.2 513.9 L503.5 513.9" fill="none" stroke="#C40012" stroke-width="1.5" stroke-linejoin="miter" stroke-linecap="butt"/>
<line x1="343.5" y1="471.5" x2="343.5" y2="475.5" stroke="#c8283a" stroke-width="0.8"/>
<line x1="384.6" y1="488.4" x2="384.6" y2="492.4" stroke="#c8283a" stroke-width="0.8"/>
<line x1="386.9" y1="488.4" x2="386.9" y2="492.4" stroke="#c8283a" stroke-width="0.8"/>
<line x1="398.4" y1="497.9" x2="398.4" y2="501.9" stroke="#c8283a" stroke-width="0.8"/>
<line x1="431.6" y1="497.9" x2="431.6" y2="501.9" stroke="#c8283a" stroke-width="0.8"/>
<line x1="459.7" y1="511.9" x2="459.7" y2="515.9" stroke="#c8283a" stroke-width="0.8"/>
<line x1="475.8" y1="511.9" x2="475.8" y2="515.9" stroke="#c8283a" stroke-width="0.8"/>
<line x1="482.5" y1="511.9" x2="482.5" y2="515.9" stroke="#c8283a" stroke-width="0.8"/>
<line x1="484.5" y1="511.9" x2="484.5" y2="515.9" stroke="#c8283a" stroke-width="0.8"/>
<line x1="489" y1="511.9" x2="489" y2="515.9" stroke="#c8283a" stroke-width="0.8"/>
<line x1="503" y1="511.9" x2="503" y2="515.9" stroke="#c8283a" stroke-width="0.8"/>
<path d="M300.6 473.5 L337.3 473.5 L337.3 516.2 L347.7 516.2 L347.7 558.9 L359.2 558.9 L359.2 601.4" fill="none" stroke="#0018A2" stroke-width="1.5" stroke-dasharray="4 2.3" stroke-linejoin="miter" stroke-linecap="butt"/>
<rect x="465" y="474" width="41.6" height="26" fill="#fff" stroke="#111" stroke-width="1.2"/>
<text x="466.9" y="481.9" font-size="7.8" text-anchor="start" fill="#1a1a1a" font-weight="normal" stroke="#1a1a1a" stroke-width="0.2" textLength="35.4" lengthAdjust="spacingAndGlyphs">BLOOD6M</text>
<line x1="473.3" y1="487.6" x2="492.7" y2="487.6" stroke="#C40012" stroke-width="1.5"/>
<line x1="473.3" y1="495.8" x2="492.7" y2="495.8" stroke="#0018A2" stroke-width="1.5" stroke-dasharray="4 2.3"/>
<text x="494" y="490.2" font-size="7.4" text-anchor="start" fill="#111" font-weight="normal" stroke="#111" stroke-width="0.15">0</text>
<text x="494" y="498.4" font-size="7.4" text-anchor="start" fill="#111" font-weight="normal" stroke="#111" stroke-width="0.15">1</text>
<rect x="463.8" y="593" width="42.3" height="8.6" fill="#fff" stroke="#111" stroke-width="1.2"/>
<text x="466" y="599.6" font-size="7.2" text-anchor="start" fill="#111" font-weight="normal" stroke="#111" stroke-width="0.15" textLength="36.3" lengthAdjust="spacingAndGlyphs">+ Censored</text>
<rect x="0" y="0" width="1.3" height="649" fill="#000"/>
<rect x="0" y="0" width="520" height="1.2" fill="#000"/>
<rect x="518.6" y="0" width="1.4" height="649" fill="#000"/>
<rect x="0" y="647.3" width="520" height="1.7" fill="#000"/>
</svg>
</body></html>
